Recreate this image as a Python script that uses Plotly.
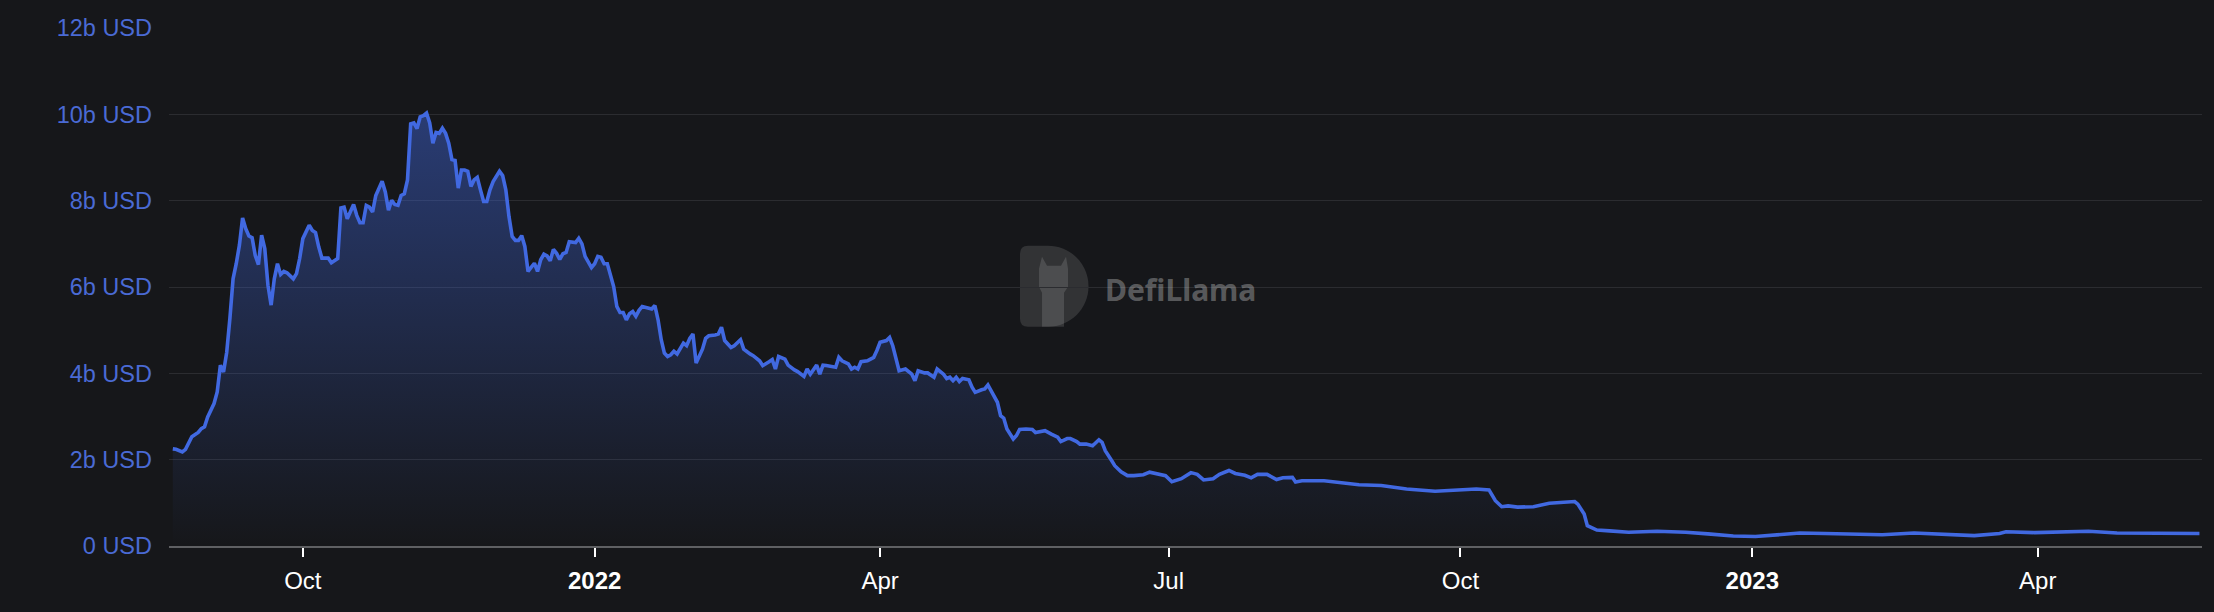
import pandas as pd
import plotly.graph_objects as go

# ---- data ----
base_date = "2022-01-01"
day_offsets = [
    -133, -132, -130, -129, -127, -125, -124, -123, -122, -120, -119, -118, -117, -116, -115, -114, -113, -112, -111, -110,
    -109, -108, -107, -106, -105, -104, -103, -102, -101, -100, -99, -98, -97, -95, -94, -93, -92, -91, -90, -89,
    -88, -87, -86, -85, -84, -83, -82, -81, -80, -79, -78, -77, -76, -75, -74, -73, -72, -71, -70, -69,
    -68, -67, -66, -65, -64, -63, -62, -61, -60, -59, -58, -57, -56, -55, -54, -53, -52, -51, -50, -49,
    -48, -47, -46, -45, -44, -43, -42, -41, -40, -39, -38, -37, -36, -35, -34, -33, -32, -30, -29, -28,
    -27, -26, -25, -24, -23, -22, -21, -20, -19, -18, -17, -16, -15, -14, -13, -12, -11, -10, -9, -8,
    -7, -6, -5, -4, -3, -1, 0, 1, 2, 3, 4, 5, 6, 7, 8, 9, 10, 11, 12, 13,
    14, 15, 17, 18, 19, 20, 21, 22, 23, 24, 25, 26, 28, 29, 30, 31, 32, 34, 35, 36,
    38, 39, 40, 41, 43, 44, 46, 47, 49, 50, 52, 53, 55, 56, 57, 58, 60, 61, 63, 64,
    66, 67, 68, 70, 71, 72, 73, 75, 76, 77, 78, 80, 81, 82, 83, 84, 86, 87, 88, 89,
    90, 92, 93, 94, 95, 96, 98, 100, 101, 102, 104, 105, 107, 108, 110, 111, 112, 113, 114, 115,
    116, 118, 119, 120, 122, 123, 124, 125, 126, 127, 128, 129, 130, 132, 133, 134, 136, 138, 139, 141,
    142, 144, 146, 147, 149, 150, 152, 153, 155, 157, 159, 160, 161, 163, 164, 166, 168, 170, 173, 175,
    178, 180, 182, 185, 188, 190, 192, 195, 197, 200, 202, 205, 207, 209, 212, 215, 217, 220, 221, 223,
    230, 241, 248, 256, 265, 272, 278, 282, 284, 286, 288, 291, 296, 301, 306, 309, 310, 312, 313, 316,
    320, 326, 335, 344, 351, 359, 366, 374, 380, 388, 399, 406, 416, 425, 435, 443, 445, 454, 462, 471,
    480, 489, 498, 506,
]
tvl_billions = [
    2.25, 2.24, 2.18, 2.24, 2.53, 2.63, 2.72, 2.76, 2.99, 3.30, 3.57, 4.19, 4.03, 4.49, 5.27, 6.19, 6.54, 6.97, 7.60, 7.35,
    7.18, 7.14, 6.73, 6.52, 7.20, 6.89, 6.04, 5.58, 6.19, 6.54, 6.29, 6.36, 6.33, 6.19, 6.31, 6.66, 7.12, 7.26, 7.43, 7.31,
    7.26, 6.93, 6.67, 6.67, 6.67, 6.56, 6.60, 6.66, 7.83, 7.85, 7.58, 7.74, 7.91, 7.66, 7.49, 7.49, 7.89, 7.85, 7.74, 8.12,
    8.28, 8.45, 8.20, 7.78, 8.01, 7.91, 7.89, 8.12, 8.16, 8.48, 9.78, 9.80, 9.67, 9.94, 9.97, 10.03, 9.80, 9.33, 9.58, 9.56,
    9.68, 9.56, 9.33, 8.95, 8.93, 8.29, 8.71, 8.71, 8.68, 8.33, 8.48, 8.54, 8.25, 7.98, 7.98, 8.25, 8.44, 8.68, 8.58, 8.25,
    7.63, 7.17, 7.08, 7.08, 7.19, 6.94, 6.36, 6.47, 6.55, 6.36, 6.63, 6.76, 6.72, 6.61, 6.87, 6.78, 6.64, 6.77, 6.80, 7.05,
    7.05, 7.03, 7.13, 7.00, 6.71, 6.45, 6.54, 6.71, 6.69, 6.54, 6.54, 6.24, 6.01, 5.55, 5.41, 5.41, 5.24, 5.38, 5.43, 5.32,
    5.46, 5.55, 5.51, 5.49, 5.57, 5.24, 4.78, 4.47, 4.39, 4.43, 4.51, 4.45, 4.70, 4.64, 4.81, 4.91, 4.24, 4.56, 4.81, 4.87,
    4.89, 4.91, 5.07, 4.76, 4.60, 4.64, 4.78, 4.56, 4.45, 4.41, 4.29, 4.18, 4.27, 4.32, 4.10, 4.39, 4.33, 4.19, 4.08, 4.04,
    3.93, 4.10, 3.98, 4.19, 3.98, 4.19, 4.18, 4.16, 4.14, 4.37, 4.29, 4.22, 4.10, 4.14, 4.10, 4.27, 4.29, 4.33, 4.37, 4.53,
    4.72, 4.76, 4.83, 4.64, 4.33, 4.06, 4.10, 3.98, 3.83, 4.06, 4.01, 4.01, 3.91, 4.10, 3.98, 3.88, 3.91, 3.83, 3.91, 3.81,
    3.88, 3.85, 3.68, 3.56, 3.62, 3.64, 3.73, 3.60, 3.50, 3.33, 3.02, 2.96, 2.71, 2.48, 2.56, 2.70, 2.71, 2.70, 2.63, 2.67,
    2.67, 2.59, 2.52, 2.42, 2.49, 2.49, 2.42, 2.36, 2.36, 2.32, 2.46, 2.40, 2.21, 1.98, 1.86, 1.72, 1.63, 1.63, 1.65, 1.71,
    1.65, 1.63, 1.49, 1.56, 1.70, 1.66, 1.53, 1.56, 1.66, 1.75, 1.68, 1.64, 1.58, 1.66, 1.66, 1.54, 1.58, 1.59, 1.48, 1.51,
    1.51, 1.42, 1.40, 1.32, 1.27, 1.30, 1.32, 1.30, 1.05, 0.91, 0.93, 0.90, 0.91, 0.99, 1.01, 1.03, 0.97, 0.74, 0.47, 0.37,
    0.35, 0.32, 0.34, 0.32, 0.28, 0.23, 0.22, 0.26, 0.30, 0.29, 0.28, 0.26, 0.30, 0.28, 0.24, 0.29, 0.33, 0.31, 0.33, 0.34,
    0.30, 0.29, 0.29, 0.29,
]

x_tick_dates = ["2021-10-01", "2022-01-01", "2022-04-01", "2022-07-01",
                "2022-10-01", "2023-01-01", "2023-04-01"]
x_tick_labels = ["Oct", "<b>2022</b>", "Apr", "Jul", "Oct", "<b>2023</b>", "Apr"]
y_tick_values = [0, 2, 4, 6, 8, 10, 12]
y_tick_labels = ["0 USD", "2b USD", "4b USD", "6b USD", "8b USD", "10b USD", "12b USD"]
watermark_text = "DefiLlama"

# ---- styling ----
BG = "#16171a"
LINE = "#4169e1"
YLAB = "rgb(74,106,212)"

dates = pd.Timestamp(base_date) + pd.to_timedelta(day_offsets, unit="D")
x_start = pd.Timestamp(base_date) + pd.Timedelta(days=-134.2)
x_end = pd.Timestamp(base_date) + pd.Timedelta(days=506.8)

fig = go.Figure()
fig.add_trace(go.Scatter(
    x=dates, y=tvl_billions, mode="lines",
    line=dict(color=LINE, width=3.6),
    fill="tozeroy",
    fillgradient=dict(
        type="vertical", start=0, stop=10,
        colorscale=[[0, "rgba(65,105,225,0.0)"], [1, "rgba(65,105,225,0.45)"]],
    ),
    hoverinfo="skip", showlegend=False,
))

# watermark logo (D shape + llama) in pixel units
ax, ay = 0.4186, 0.4233
d_path = ("M 8,0 L 28,0 C 50.37,0 68.5,18.13 68.5,40.5 "
          "C 68.5,62.87 50.37,81 28,81 L 8,81 Q 0,81 0,73 L 0,8 Q 0,0 8,0 Z")
llama_path = ("M 22,0 L 44,0 L 44,34 L 48,40 L 48,58 L 46,70 L 41,61 L 27,61 "
              "L 22,70 L 19,58 L 19,40 L 22,34 Z")
shapes = []
for path, col in [(d_path, "rgba(255,255,255,0.12)"), (llama_path, "rgba(255,255,255,0.13)")]:
    shapes.append(dict(type="path", path=path, xref="paper", yref="paper",
                       xsizemode="pixel", ysizemode="pixel", xanchor=ax, yanchor=ay,
                       fillcolor=col, line=dict(width=0), layer="below"))

fig.update_layout(
    width=2214, height=612,
    paper_bgcolor=BG, plot_bgcolor="rgba(0,0,0,0)",
    margin=dict(l=169, r=12, t=28, b=66),
    shapes=shapes,
    annotations=[dict(text="<b>" + watermark_text + "</b>", x=0.4594, y=0.4947,
                      xref="paper", yref="paper", xanchor="left", yanchor="middle",
                      showarrow=False,
                      font=dict(family="Noto Sans, Liberation Sans, sans-serif",
                                size=30, color="rgba(255,255,255,0.30)"))],
    xaxis=dict(
        type="date", range=[x_start, x_end],
        tickmode="array", tickvals=x_tick_dates, ticktext=x_tick_labels,
        showgrid=False, zeroline=False,
        showline=True, linecolor="#5f6063", linewidth=2,
        ticks="outside", ticklen=9, tickwidth=2, tickcolor="#ffffff",
        tickfont=dict(family="Liberation Sans, Arial, sans-serif", size=24, color="#ffffff"),
        ticklabelstandoff=3,
    ),
    yaxis=dict(
        range=[0, 12], tickmode="array", tickvals=y_tick_values, ticktext=y_tick_labels,
        showgrid=True, gridcolor="#2b2c30", gridwidth=1,
        zeroline=False, showline=False, ticks="",
        tickfont=dict(family="Liberation Sans, Arial, sans-serif", size=23.5, color=YLAB),
        ticklabelstandoff=16,
    ),
)

fig.write_html("out.html",
               config={"displayModeBar": False},
               post_script="document.body.style.margin='0';document.body.style.background='#16171a';")
